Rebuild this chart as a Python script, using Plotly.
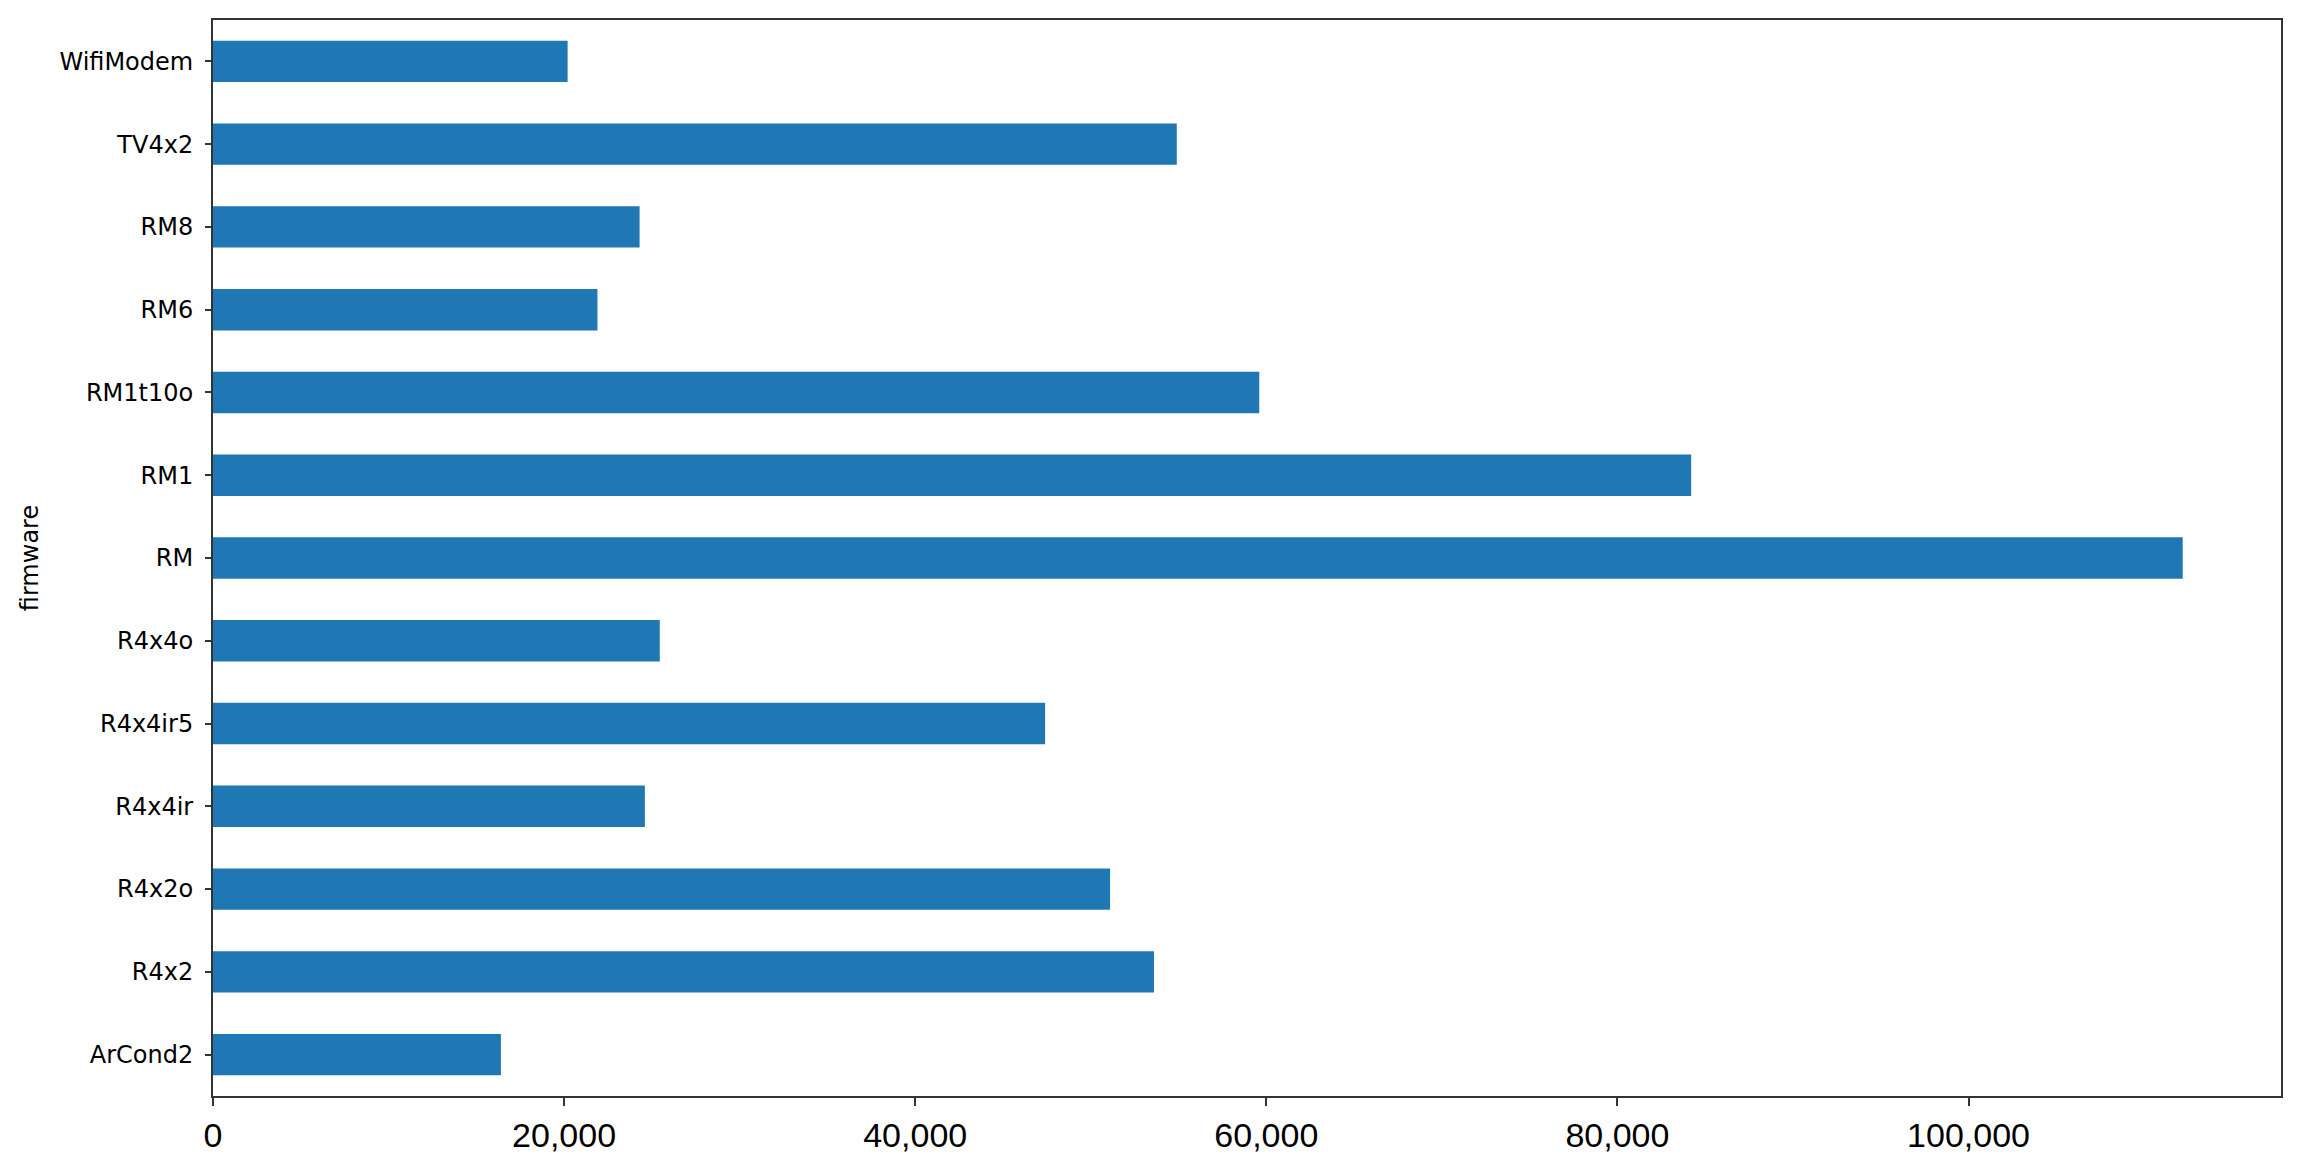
import plotly.graph_objects as go

firmware = ["ArCond2", "R4x2", "R4x2o", "R4x4ir", "R4x4ir5", "R4x4o", "RM",
            "RM1", "RM1t10o", "RM6", "RM8", "TV4x2", "WifiModem"]
values = [16400, 53600, 51100, 24600, 47400, 25450, 112200,
          84200, 59600, 21900, 24300, 54900, 20200]
x_ticks = [0, 20000, 40000, 60000, 80000, 100000]

fig = go.Figure(go.Bar(
    x=values, y=firmware, orientation="h",
    marker=dict(color="#1f77b4", line=dict(width=0)),
    width=0.5,
))

axis_color = "#333333"
# page body adds an 8px offset, so the figure is sized 8px smaller
fig.update_layout(
    width=2295, height=1153,
    margin=dict(l=205, r=22, t=12, b=65, autoexpand=False),
    paper_bgcolor="white", plot_bgcolor="white",
    showlegend=False,
    separators=".,",
    font=dict(family="DejaVu Sans", color="black"),
)
fig.update_xaxes(
    range=[0, 117800], tickvals=x_ticks, tickformat=",",
    showgrid=False, zeroline=False,
    showline=True, linecolor=axis_color, linewidth=2, mirror=True,
    ticks="outside", ticklen=8, tickwidth=1.5, tickcolor=axis_color,
    tickfont=dict(size=34, family="Liberation Sans", color="black"),
    ticklabelstandoff=0,
)
fig.update_yaxes(
    type="category", categoryorder="array", categoryarray=firmware,
    range=[-0.5, 12.5],
    showgrid=False, zeroline=False,
    showline=True, linecolor=axis_color, linewidth=2, mirror=True,
    ticks="outside", ticklen=6, tickwidth=1.5, tickcolor=axis_color,
    tickfont=dict(size=24, family="DejaVu Sans", color="black"),
    ticklabelstandoff=7,
    title=dict(text="firmware", font=dict(size=24, family="DejaVu Sans", color="black"), standoff=14),
)

fig.write_html("out.html")
